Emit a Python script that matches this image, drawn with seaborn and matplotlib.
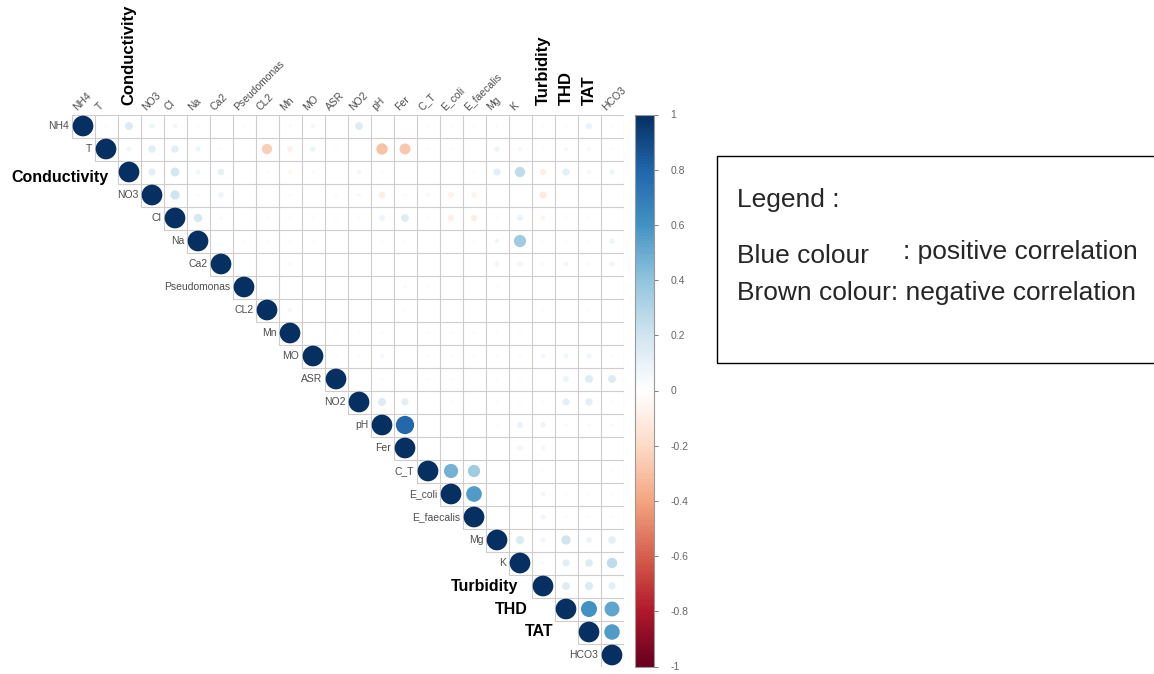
import matplotlib
matplotlib.use("Agg")
import matplotlib.pyplot as plt
from matplotlib.colors import LinearSegmentedColormap
from matplotlib.patches import Rectangle
import numpy as np
import pandas as pd
import seaborn as sns

# variable names, in corrplot order
variables = ['NH4', 'T', 'Conductivity', 'NO3', 'Cl', 'Na', 'Ca2', 'Pseudomonas', 'CL2', 'Mn',
             'MO', 'ASR', 'NO2', 'pH', 'Fer', 'C_T', 'E_coli', 'E_faecalis', 'Mg', 'K',
             'Turbidity', 'THD', 'TAT', 'HCO3']
bold_labels = ['Conductivity', 'Turbidity', 'THD', 'TAT']

# upper triangle, each row lists r with the following variables
r_NH4 = [-0.03, 0.15, 0.07, 0.06, 0.02, 0, 0.02, 0, 0.03, 0.05, 0, 0.14, 0, 0, 0.02, 0.02, 0.02, 0.03, 0, 0.02, 0.02, 0.09, 0.02]
r_T = [0.06, 0.13, 0.13, 0.07, 0.02, 0, -0.25, -0.08, 0.07, 0.02, 0, -0.3, -0.28, 0.02, 0.02, 0, 0.07, 0.04, 0.02, 0.05, 0.04, 0.02]
r_Conductivity = [0.12, 0.18, 0.06, 0.1, 0, 0.02, -0.05, -0.03, 0, 0.05, 0.02, 0, 0, 0, 0.02, 0.12, 0.25, -0.09, 0.12, 0.05, 0.07]
r_NO3 = [0.2, 0.02, 0.07, 0, 0, 0.02, 0, 0.03, 0.04, -0.1, -0.03, 0.04, -0.08, -0.07, 0, 0, -0.12, 0, 0, 0]
r_Cl = [0.17, 0.03, 0, 0.02, 0.02, 0.02, 0.02, 0.02, 0.08, 0.14, 0.02, -0.09, -0.1, 0.02, 0.09, -0.06, 0.02, 0.02, 0]
r_Na = [0, 0.02, 0.02, 0.02, 0.02, 0.02, 0, 0.02, 0.02, 0, 0, 0.02, 0.06, 0.35, 0.02, 0.02, 0.02, 0.07]
r_Ca2 = [0.02, 0, 0.03, 0, 0, 0, 0, 0, 0, 0, 0.02, 0.06, 0.06, 0.03, 0.05, 0.03, 0.06]
r_Pseudomonas = [0, 0, 0, 0, 0, 0, 0.03, 0.02, 0, 0, 0.02, 0.02, 0, 0, 0, 0]
r_CL2 = [0.05, 0, 0, 0, 0, 0.02, 0, 0, 0, 0, 0, 0.02, 0, 0.02, 0]
r_Mn = [0, 0.02, 0.02, 0.02, 0, 0.02, 0.02, 0.02, 0.02, 0.02, 0, 0, 0, 0]
r_MO = [0.02, 0.02, 0.05, 0, 0.02, 0.02, 0.02, 0.02, 0.02, 0.05, 0.06, 0.06, 0.02]
r_ASR = [0, 0.02, 0, 0.02, 0.02, 0, 0.02, 0.02, 0, 0.08, 0.15, 0.15]
r_NO2 = [0.15, 0.12, 0, 0.02, 0, 0.02, 0.02, 0.02, 0.12, 0.13, 0.02]
r_pH = [0.78, 0, 0, 0, 0.02, 0.09, 0.07, 0.03, 0.03, 0.03]
r_Fer = [0, 0, 0, 0, 0.06, 0.05, 0, 0, 0]
r_C_T = [0.47, 0.35, 0, 0.02, 0.02, 0, 0, 0.02]
r_E_coli = [0.57, 0, 0, 0.06, 0.02, 0.02, 0.02]
r_E_faecalis = [0, 0, 0.06, 0.02, 0.02, 0.02]
r_Mg = [0.16, 0.06, 0.2, 0.08, 0.13]
r_K = [0.03, 0.12, 0.14, 0.25]
r_Turbidity = [0.14, 0.16, 0.12]
r_THD = [0.6, 0.52]
r_TAT = [0.56]
r_HCO3 = []

rows = [r_NH4, r_T, r_Conductivity, r_NO3, r_Cl, r_Na, r_Ca2, r_Pseudomonas, r_CL2, r_Mn,
        r_MO, r_ASR, r_NO2, r_pH, r_Fer, r_C_T, r_E_coli, r_E_faecalis, r_Mg, r_K,
        r_Turbidity, r_THD, r_TAT, r_HCO3]

# long table of the upper triangle incl. diagonal
recs = []
for i, vals in enumerate(rows):
    recs.append((i, i, 1.0))
    for k, v in enumerate(vals):
        recs.append((i, i + 1 + k, v))
df = pd.DataFrame(recs, columns=['row', 'col', 'r'])
df['absr'] = df['r'].abs()
df = df[df['absr'] > 0]

# corrplot COL2('RdBu')
cmap = LinearSegmentedColormap.from_list('rdbu', ["#67001F", "#B2182B", "#D6604D", "#F4A582", "#FDDBC7",
                                                   "#FFFFFF", "#D1E5F0", "#92C5DE", "#4393C3", "#2166AC",
                                                   "#053061"], N=200)

sns.set_theme(style='white')
plt.rcParams['font.family'] = ['Liberation Sans', 'DejaVu Sans']

W, H = 1154, 674
fig = plt.figure(figsize=(W / 100, H / 100), dpi=100)
n = len(variables)
cell = 23.0
gx0, gy0 = 71.5, 114.5
ax = fig.add_axes([gx0 / W, 1 - (gy0 + n * cell) / H, n * cell / W, n * cell / H])

# grid of the upper triangle
gcol = '#d0cccc'
for k in range(n + 1):
    ax.plot([max(k - 1, 0) - 0.5, n - 0.5], [k - 0.5, k - 0.5], color=gcol, lw=0.8, zorder=1)
    ax.plot([k - 0.5, k - 0.5], [-0.5, min(k, n - 1) + 0.5], color=gcol, lw=0.8, zorder=1)

sns.scatterplot(data=df, x='col', y='row', hue='r', size='absr', palette=cmap, hue_norm=(-1, 1),
                sizes=(0, 222), size_norm=(0, 1), legend=False, linewidth=0, ax=ax, zorder=3)

ax.set_xlim(-0.5, n - 0.5)
ax.set_ylim(n - 0.5, -0.5)
ax.axis('off')

lab_col = '#4d4d4d'
for j, name in enumerate(variables):
    if name in bold_labels:
        ax.text(j, -0.9, name, rotation=90, rotation_mode='anchor', ha='left', va='center',
                fontsize=12, fontweight='bold', color='black', clip_on=False)
    else:
        ax.text(j - 0.2, -0.6, name, rotation=45, rotation_mode='anchor', ha='left', va='bottom',
                fontsize=7.5, color=lab_col, clip_on=False)

row_bold_pos = {'Conductivity': (1.09, 2.26), 'Turbidity': (18.91, 20), 'THD': (19.35, 21), 'TAT': (20.43, 22)}
for i, name in enumerate(variables):
    if name in row_bold_pos:
        x, y = row_bold_pos[name]
        ax.text(x, y, name, ha='right', va='center', fontsize=11.5, fontweight='bold',
                color='black', clip_on=False)
    else:
        ax.text(i - 0.6, i, name, ha='right', va='center', fontsize=7.5, color=lab_col, clip_on=False)

# colour bar
cax = fig.add_axes([635 / W, 1 - (gy0 + n * cell) / H, 19 / W, n * cell / H])
sm = plt.cm.ScalarMappable(cmap=cmap, norm=plt.Normalize(-1, 1))
cb = fig.colorbar(sm, cax=cax)
ticks = np.round(np.arange(-1, 1.01, 0.2), 1) + 0.0
cb.set_ticks(ticks)
cb.set_ticklabels(['0' if abs(t) < 1e-9 else f"{t:g}" for t in ticks])
cb.outline.set_edgecolor('#999999')
cb.outline.set_linewidth(0.8)
cax.tick_params(labelsize=7.5, colors='#666666', length=3, width=0.6, pad=9)

# text legend box
fig.add_artist(Rectangle((717 / W, 1 - 363 / H), 0.45, 207 / H, transform=fig.transFigure,
                         fill=False, edgecolor='black', lw=1))
fig.text(737 / W, 1 - 200 / H, 'Legend :', va='center', fontsize=19)
fig.text(737 / W, 1 - 256 / H, 'Blue colour', va='center', fontsize=19)
fig.text(903 / W, 1 - 252 / H, ': positive correlation', va='center', fontsize=19)
fig.text(737 / W, 1 - 293 / H, 'Brown colour: negative correlation', va='center', fontsize=19)

fig.savefig('out.png', dpi=100)
